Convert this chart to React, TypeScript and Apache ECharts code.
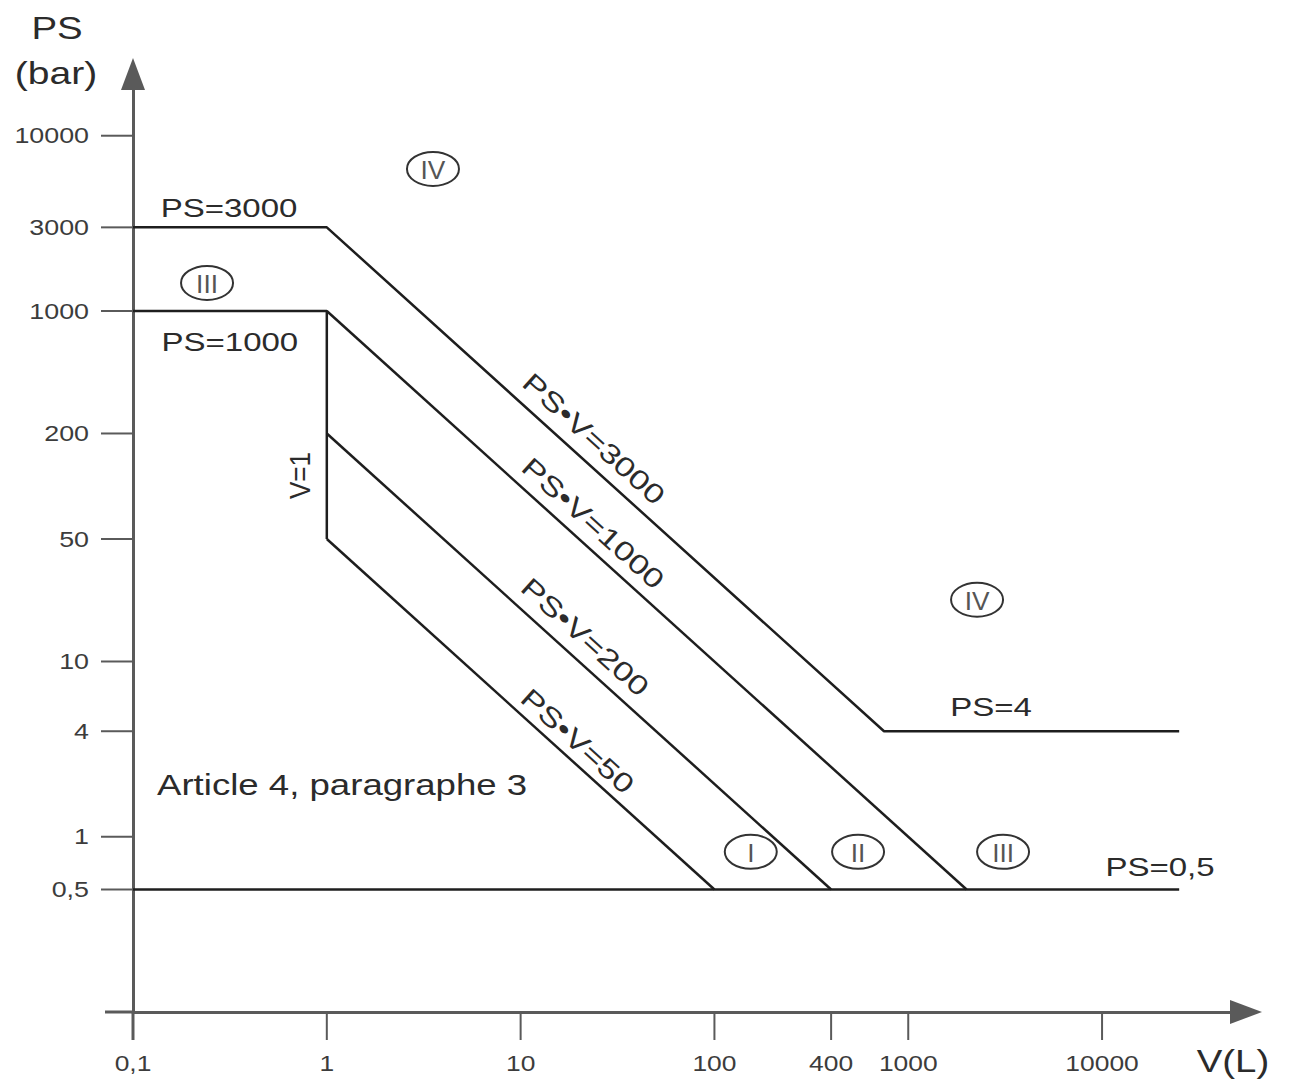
import React, { useEffect, useRef } from "react";
import * as echarts from "echarts";

// ---- axes ----
const X_MIN = 0.1;
const X_MAX = 55300;
const Y_MIN = 0.1;
const Y_MAX = 22500;

const xTickValues = [0.1, 1, 10, 100, 400, 1000, 10000];
const xTickLabels = ["0,1", "1", "10", "100", "400", "1000", "10000"];
const yTickValues = [10000, 3000, 1000, 200, 50, 10, 4, 1, 0.5];
const yTickLabels = ["10000", "3000", "1000", "200", "50", "10", "4", "1", "0,5"];

// ---- boundary lines [V (L), PS (bar)] ----
const limit3000 = [[0.1, 3000], [1, 3000], [750, 4], [25000, 4]];
const limit1000 = [[0.1, 1000], [1, 1000], [1, 50]];
const limitPV1000 = [[1, 1000], [2000, 0.5]];
const limitPV200 = [[1, 200], [400, 0.5]];
const limitPV50 = [[1, 50], [100, 0.5]];
const limit05 = [[0.1, 0.5], [25000, 0.5]];

// ---- annotations (data coordinates) ----
const lineLabels = [
  { text: "PS=3000", v: 0.313, ps: 3870 },
  { text: "PS=1000", v: 0.316, ps: 667 },
  { text: "PS=4", v: 2673, ps: 5.5 },
  { text: "PS=0,5", v: 19900, ps: 0.675 },
];
const diagonalLabels = [
  { text: "PS•V=3000", product: 3000, v: 20, offset: 22 },
  { text: "PS•V=1000", product: 1000, v: 20, offset: 21 },
  { text: "PS•V=200", product: 200, v: 18, offset: 22 },
  { text: "PS•V=50", product: 50, v: 17, offset: 18 },
];
const categoryMarks = [
  { text: "IV", v: 3.53, ps: 6460 },
  { text: "III", v: 0.241, ps: 1445 },
  { text: "IV", v: 2265, ps: 22.5 },
  { text: "I", v: 154, ps: 0.82 },
  { text: "II", v: 551, ps: 0.82 },
  { text: "III", v: 3085, ps: 0.82 },
];
const verticalLabel = { text: "V=1", v: 0.728, ps: 115 };
const noteLabel = { text: "Article 4, paragraphe 3", v: 0.133, ps: 1.98 };

const FONT = "'Liberation Sans', Arial, Helvetica, sans-serif";
const LINE_COLOR = "#1e1e1e";
const AXIS_COLOR = "#5a5a5a";
const TEXT_COLOR = "#2b2b2b";

function lineSeries(data: number[][]) {
  return {
    type: "line",
    data,
    showSymbol: false,
    symbol: "none",
    silent: true,
    lineStyle: { color: LINE_COLOR, width: 2.5 },
    z: 3,
  };
}

export default function App() {
  const ref = useRef<HTMLDivElement>(null);

  useEffect(() => {
    document.body.style.margin = "0";
    const chart = echarts.init(ref.current!, null, { renderer: "svg" });

    const option: any = {
      animation: false,
      backgroundColor: "#ffffff",
      grid: { left: 133, right: 46, top: 74, bottom: 69, containLabel: false },
      xAxis: {
        type: "log",
        logBase: 10,
        min: X_MIN,
        max: X_MAX,
        axisLine: {
          show: true,
          onZero: false,
          symbol: ["none", "triangle"],
          symbolSize: [24, 32],
          lineStyle: { color: AXIS_COLOR, width: 3 },
        },
        axisTick: { show: false },
        axisLabel: { show: false },
        splitLine: { show: false },
      },
      yAxis: {
        type: "log",
        logBase: 10,
        min: Y_MIN,
        max: Y_MAX,
        axisLine: {
          show: true,
          onZero: false,
          symbol: ["none", "triangle"],
          symbolSize: [24, 32],
          lineStyle: { color: AXIS_COLOR, width: 3 },
        },
        axisTick: { show: false },
        axisLabel: { show: false },
        splitLine: { show: false },
      },
      graphic: [
        {
          type: "text",
          x: 57,
          y: 28,
          scaleX: 1.2,
          style: { text: "PS", fill: TEXT_COLOR, fontSize: 32, fontFamily: FONT, align: "center", verticalAlign: "middle" },
        },
        {
          type: "text",
          x: 56,
          y: 73,
          scaleX: 1.22,
          style: { text: "(bar)", fill: TEXT_COLOR, fontSize: 32, fontFamily: FONT, align: "center", verticalAlign: "middle" },
        },
        {
          type: "text",
          x: 1233,
          y: 1061,
          scaleX: 1.2,
          style: { text: "V(L)", fill: TEXT_COLOR, fontSize: 32, fontFamily: FONT, align: "center", verticalAlign: "middle" },
        },
      ],
      series: [
        lineSeries(limit3000),
        lineSeries(limit1000),
        lineSeries(limitPV1000),
        lineSeries(limitPV200),
        lineSeries(limitPV50),
        lineSeries(limit05),
        // axis extensions past the origin
        {
          type: "custom",
          silent: true,
          clip: false,
          data: [[X_MIN, Y_MIN]],
          renderItem: (_p: any, api: any) => {
            const o = api.coord([api.value(0), api.value(1)]);
            return {
              type: "group",
              children: [
                { type: "line", shape: { x1: o[0] - 28, y1: o[1], x2: o[0], y2: o[1] }, style: { stroke: AXIS_COLOR, lineWidth: 3 } },
                { type: "line", shape: { x1: o[0], y1: o[1], x2: o[0], y2: o[1] + 28 }, style: { stroke: AXIS_COLOR, lineWidth: 3 } },
              ],
            };
          },
        },
        // x ticks
        {
          type: "custom",
          silent: true,
          clip: false,
          data: xTickValues.map((v) => [v, Y_MIN]),
          renderItem: (params: any, api: any) => {
            const p = api.coord([api.value(0), api.value(1)]);
            return {
              type: "group",
              children: [
                { type: "line", shape: { x1: p[0], y1: p[1], x2: p[0], y2: p[1] + 28 }, style: { stroke: AXIS_COLOR, lineWidth: 2 } },
                {
                  type: "text",
                  x: p[0],
                  y: p[1] + 51,
                  scaleX: 1.2,
                  style: { text: xTickLabels[params.dataIndex], fill: "#3c3c3c", fontSize: 22, fontFamily: FONT, align: "center", verticalAlign: "middle" },
                },
              ],
            };
          },
        },
        // y ticks
        {
          type: "custom",
          silent: true,
          clip: false,
          data: yTickValues.map((v) => [X_MIN, v]),
          renderItem: (params: any, api: any) => {
            const p = api.coord([api.value(0), api.value(1)]);
            return {
              type: "group",
              children: [
                { type: "line", shape: { x1: p[0] - 32, y1: p[1], x2: p[0], y2: p[1] }, style: { stroke: AXIS_COLOR, lineWidth: 2 } },
                {
                  type: "text",
                  x: p[0] - 44,
                  y: p[1],
                  scaleX: 1.22,
                  style: { text: yTickLabels[params.dataIndex], fill: "#3c3c3c", fontSize: 22, fontFamily: FONT, align: "right", verticalAlign: "middle" },
                },
              ],
            };
          },
        },
        // horizontal line labels
        {
          type: "custom",
          silent: true,
          clip: false,
          data: lineLabels.map((d) => [d.v, d.ps]),
          renderItem: (params: any, api: any) => {
            const p = api.coord([api.value(0), api.value(1)]);
            return {
              type: "text",
              x: p[0],
              y: p[1],
              scaleX: 1.27,
              style: { text: lineLabels[params.dataIndex].text, fill: TEXT_COLOR, fontSize: 26, fontFamily: FONT, align: "center", verticalAlign: "middle" },
            };
          },
        },
        // diagonal labels
        {
          type: "custom",
          silent: true,
          clip: false,
          data: diagonalLabels.map((d) => [d.v, d.product / d.v]),
          renderItem: (params: any, api: any) => {
            const d = diagonalLabels[params.dataIndex];
            const p = api.coord([api.value(0), api.value(1)]);
            const q = api.coord([d.v * 10, d.product / (d.v * 10)]);
            const a = Math.atan2(q[1] - p[1], q[0] - p[0]);
            const nx = Math.sin(a);
            const ny = -Math.cos(a);
            return {
              type: "text",
              x: p[0] + nx * d.offset,
              y: p[1] + ny * d.offset,
              rotation: -a,
              scaleX: 1.3,
              style: { text: d.text, fill: TEXT_COLOR, fontSize: 27, fontFamily: FONT, align: "center", verticalAlign: "middle" },
            };
          },
        },
        // circled category marks
        {
          type: "custom",
          silent: true,
          clip: false,
          data: categoryMarks.map((d) => [d.v, d.ps]),
          renderItem: (params: any, api: any) => {
            const p = api.coord([api.value(0), api.value(1)]);
            return {
              type: "group",
              children: [
                { type: "ellipse", shape: { cx: p[0], cy: p[1], rx: 26, ry: 17 }, style: { fill: "none", stroke: "#333", lineWidth: 2 } },
                {
                  type: "text",
                  x: p[0],
                  y: p[1] + 1,
                  scaleX: 1.05,
                  style: { text: categoryMarks[params.dataIndex].text, fill: "#555", fontSize: 25, fontFamily: FONT, align: "center", verticalAlign: "middle" },
                },
              ],
            };
          },
        },
        // V=1 and the note
        {
          type: "custom",
          silent: true,
          clip: false,
          data: [
            [verticalLabel.v, verticalLabel.ps],
            [noteLabel.v, noteLabel.ps],
          ],
          renderItem: (params: any, api: any) => {
            const p = api.coord([api.value(0), api.value(1)]);
            if (params.dataIndex === 0) {
              return {
                type: "text",
                x: p[0],
                y: p[1],
                rotation: Math.PI / 2,
                scaleY: 1.15,
                style: { text: verticalLabel.text, fill: TEXT_COLOR, fontSize: 26, fontFamily: FONT, align: "center", verticalAlign: "middle" },
              };
            }
            return {
              type: "text",
              x: p[0],
              y: p[1],
              scaleX: 1.22,
              style: { text: noteLabel.text, fill: TEXT_COLOR, fontSize: 30, fontFamily: FONT, align: "left", verticalAlign: "middle" },
            };
          },
        },
      ],
    };

    chart.setOption(option);
    return () => chart.dispose();
  }, []);

  return (
    <div
      ref={ref}
      style={{ position: "fixed", left: 0, top: 0, width: 1292, height: 1081, background: "#ffffff" }}
    />
  );
}
